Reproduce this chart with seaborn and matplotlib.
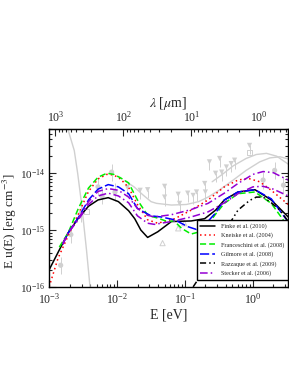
import numpy as np
import pandas as pd
import seaborn as sns
import matplotlib.pyplot as plt
from matplotlib.ticker import NullFormatter, FixedLocator

# log10 E [eV] and log10 E u(E) [erg cm^-3]
finke_loge = [-3.0, -2.85, -2.72, -2.57, -2.42, -2.28, -2.13, -1.98, -1.83, -1.74, -1.65,
              -1.55, -1.40, -1.20, -0.91, -0.71, -0.55, -0.42, -0.22, 0.03, 0.27, 0.52]
finke_logu = [-15.70, -15.35, -15.05, -14.79, -14.58, -14.47, -14.43, -14.50, -14.66, -14.80, -15.0,
              -15.13, -15.03, -14.85, -14.84, -14.80, -14.65, -14.47, -14.33, -14.29, -14.47, -14.77]

kneiske_loge = [-3.0, -2.87, -2.72, -2.57, -2.42, -2.28, -2.15, -2.05, -1.95, -1.83, -1.70,
                -1.55, -1.40, -1.15, -0.91, -0.66, -0.42, -0.22, -0.07, 0.10, 0.27, 0.52]
kneiske_logu = [-16.0, -15.50, -15.10, -14.72, -14.32, -14.10, -14.02, -14.03, -14.10, -14.25, -14.55,
                -14.82, -14.88, -14.80, -14.65, -14.47, -14.24, -14.12, -14.09, -14.15, -14.30, -14.55]

franc_loge = [-2.85, -2.72, -2.57, -2.42, -2.28, -2.15, -2.05, -1.95, -1.83, -1.70, -1.55, -1.40,
              -1.26, -1.16, -1.05, -0.91, -0.78, -0.66, -0.55, -0.42, -0.22, 0.03, 0.27, 0.50]
franc_logu = [-15.30, -15.05, -14.62, -14.26, -14.07, -14.0, -14.02, -14.08, -14.17, -14.47, -14.74, -14.79,
              -14.85, -14.84, -14.97, -15.07, -15.03, -14.90, -14.72, -14.53, -14.36, -14.33, -14.53, -14.91]

gilmore_loge = [-2.80, -2.72, -2.57, -2.42, -2.28, -2.13, -1.98, -1.83, -1.70, -1.50, -1.35,
                -1.15, -0.96, -0.83, -0.71, -0.55, -0.42, -0.22, 0.03, 0.27, 0.52]
gilmore_logu = [-15.25, -15.05, -14.78, -14.47, -14.28, -14.20, -14.24, -14.36, -14.62, -14.75, -14.77,
                -14.82, -14.94, -14.99, -14.91, -14.70, -14.47, -14.33, -14.29, -14.45, -14.86]

razz_loge = [-0.88, -0.78, -0.66, -0.54, -0.44, -0.34, -0.22, -0.05, 0.05, 0.15, 0.27, 0.40, 0.52]
razz_logu = [-16.0, -15.82, -15.55, -15.29, -15.02, -14.88, -14.65, -14.48, -14.42, -14.42, -14.52, -14.65, -14.85]

stecker_loge = [-2.80, -2.72, -2.57, -2.42, -2.28, -2.13, -1.98, -1.83, -1.70, -1.55,
                -1.45, -1.20, -0.91, -0.66, -0.42, -0.22, 0.0, 0.15, 0.30, 0.52]
stecker_fe_logu = [-15.25, -15.05, -14.80, -14.50, -14.32, -14.27, -14.30, -14.42, -14.62, -14.74,
                   -14.77, -14.73, -14.64, -14.53, -14.35, -14.18, -14.02, -13.97, -13.99, -14.12]
stecker_be_logu = [-15.25, -15.05, -14.82, -14.55, -14.40, -14.35, -14.40, -14.52, -14.75, -14.88,
                   -14.90, -14.85, -14.77, -14.68, -14.52, -14.36, -14.24, -14.23, -14.28, -14.40]

# grey background: CMB tail and two data-fit lines
cmb_loge = [-2.76, -2.73, -2.68, -2.63, -2.58, -2.53, -2.49, -2.45, -2.41, -2.39]
cmb_logu = [-13.0, -13.2, -13.4, -13.6, -14.0, -14.47, -14.9, -15.35, -15.85, -16.1]
fitlo_loge = [-1.89, -1.75, -1.62, -1.50, -1.42, -1.20, -0.98, -0.80, -0.66, -0.50,
              -0.29, -0.10, 0.10, 0.25, 0.40, 0.52]
fitlo_logu = [-14.13, -14.24, -14.38, -14.50, -14.53, -14.56, -14.55, -14.50, -14.42, -14.30,
              -14.12, -13.95, -13.80, -13.73, -13.71, -13.75]
fithi_loge = [-0.60, -0.45, -0.29, -0.10, 0.05, 0.20, 0.35, 0.52]
fithi_logu = [-14.15, -14.02, -13.87, -13.74, -13.67, -13.65, -13.70, -13.84]

# grey measurements
circ_loge = [-2.83, -2.68, -2.53, -2.22, -2.28, -2.08, -2.03, 0.15, 0.32, 0.45]
circ_logu = [-15.62, -15.08, -14.70, -14.40, -14.24, -13.98, -14.33, -14.12, -13.95, -14.21]
sq_loge = [-2.45, -0.05]
sq_logu = [-14.68, -13.63]
ul_loge = [-1.85, -1.66, -1.55, -1.30, -1.30, -1.10, -1.08, -0.96, -0.88, -0.83, -0.71, -0.70,
           -0.64, -0.55, -0.49, -0.46, -0.39, -0.32, -0.27, -0.05]
ul_logu = [-14.25, -14.30, -14.29, -14.23, -14.42, -14.37, -14.53, -14.35, -14.39, -14.33, -14.18, -14.33,
           -13.80, -14.00, -13.74, -13.98, -13.89, -13.83, -13.77, -13.51]
tri_loge = [-1.33, -1.10, -1.01]
tri_logu = [-15.23, -14.97, -14.88]

labels = ['Finke et al. (2010)', 'Kneiske et al. (2004)', 'Franceschini et al. (2008)',
          'Gilmore et al. (2008)', 'Razzaque et al. (2009)', 'Stecker et al. (2006)']
top_ticks = [1e3, 1e2, 1e1, 1e0]

sns.set_style('ticks')
plt.rcParams['font.family'] = ['Liberation Serif', 'DejaVu Serif']
plt.rcParams['mathtext.fontset'] = 'stix'

fig = plt.figure(figsize=(2.89, 3.74), dpi=100)
ax = fig.add_axes([0.170, 0.233, 0.827, 0.422])

grey = '#d0d0d0'
for lx, ly in [(cmb_loge, cmb_logu), (fitlo_loge, fitlo_logu), (fithi_loge, fithi_logu)]:
    sns.lineplot(x=10**np.array(lx), y=10**np.array(ly), ax=ax, color=grey, lw=1.0,
                 estimator=None, sort=False)

# data points with error bars / upper limits
circ_y = 10**np.array(circ_logu)
ax.errorbar(10**np.array(circ_loge), circ_y,
            yerr=[circ_y * (1 - 10**-0.15), circ_y * (10**0.15 - 1)],
            fmt='none', ecolor=grey, lw=0.7)
ul_y = 10**np.array(ul_logu)
ax.errorbar(10**np.array(ul_loge), ul_y, yerr=[ul_y * (1 - 10**-0.15), ul_y * 0],
            fmt='none', ecolor=grey, lw=0.7)
pts = pd.DataFrame({'E': 10**np.array(circ_loge), 'u': circ_y})
sns.scatterplot(data=pts, x='E', y='u', ax=ax, marker='o', s=14, color=grey, edgecolor='none')
sns.scatterplot(x=10**np.array(ul_loge), y=ul_y, ax=ax, marker='v', s=14, color=grey, edgecolor='none')
sns.scatterplot(x=10**np.array(sq_loge), y=10**np.array(sq_logu), ax=ax, marker='s', s=12,
                facecolor='none', edgecolor=grey, linewidth=0.7)
sns.scatterplot(x=10**np.array(tri_loge), y=10**np.array(tri_logu), ax=ax, marker='^', s=14,
                facecolor='none', edgecolor=grey, linewidth=0.7)

models = [
    (finke_loge, finke_logu, 'black', '-', labels[0]),
    (kneiske_loge, kneiske_logu, '#ff0000', (0, (1, 2)), labels[1]),
    (franc_loge, franc_logu, '#00ee00', (0, (4, 2)), labels[2]),
    (gilmore_loge, gilmore_logu, '#0000ff', (0, (6, 2)), labels[3]),
    (razz_loge, razz_logu, 'black', (0, (4, 2, 1, 2, 1, 2)), labels[4]),
    (stecker_loge, stecker_fe_logu, '#9400d3', (0, (5, 2, 1, 2)), labels[5]),
    (stecker_loge, stecker_be_logu, '#9400d3', (0, (5, 2, 1, 2)), None),
]
handles = []
for lx, ly, c, ls, lab in models:
    sns.lineplot(x=10**np.array(lx), y=10**np.array(ly), ax=ax, color=c, linestyle=ls,
                 lw=1.1, estimator=None, sort=False)
    if lab is not None:
        handles.append(ax.lines[-1])

ax.set_xscale('log')
ax.set_yscale('log')
ax.set_xlim(1e-3, 3.3)
ax.set_ylim(1e-16, 6e-14)
ax.xaxis.set_minor_formatter(NullFormatter())
ax.yaxis.set_minor_formatter(NullFormatter())
ax.set_xlabel('E [eV]', fontsize=10, labelpad=1)
ax.set_ylabel(r'E u(E) [erg cm$^{-3}$]', fontsize=9.5)
ax.yaxis.set_label_coords(-0.125, 0.42)
ax.tick_params(which='both', direction='in', top=False, right=True, labelsize=8, width=0.8)
ax.tick_params(which='major', length=5, pad=3)
ax.tick_params(axis='x', which='major', pad=4, labelsize=8.5)
ax.tick_params(which='minor', length=2.5)
for s in ax.spines.values():
    s.set_linewidth(1.0)
    s.set_color('black')

top = ax.secondary_xaxis('top', functions=(lambda e: 1.2398 / e, lambda l: 1.2398 / l))
top.xaxis.set_major_locator(FixedLocator(top_ticks))
top.xaxis.set_minor_formatter(NullFormatter())
top.set_xlabel(r'$\lambda$ [$\mu$m]', fontsize=10, labelpad=2)
top.tick_params(which='both', direction='in', labelsize=8.5, width=0.8)
top.tick_params(which='major', length=5)
top.tick_params(which='minor', length=2.5)

leg = ax.legend(handles, labels, loc='lower right', bbox_to_anchor=(1.0, 0.044), fontsize=4.4,
                frameon=True, fancybox=False, framealpha=1, edgecolor='black', borderaxespad=0,
                handlelength=2.4, labelspacing=0.6, borderpad=0.6, handletextpad=1.0)
leg.get_frame().set_linewidth(1.0)

fig.savefig('out.png', dpi=100)
